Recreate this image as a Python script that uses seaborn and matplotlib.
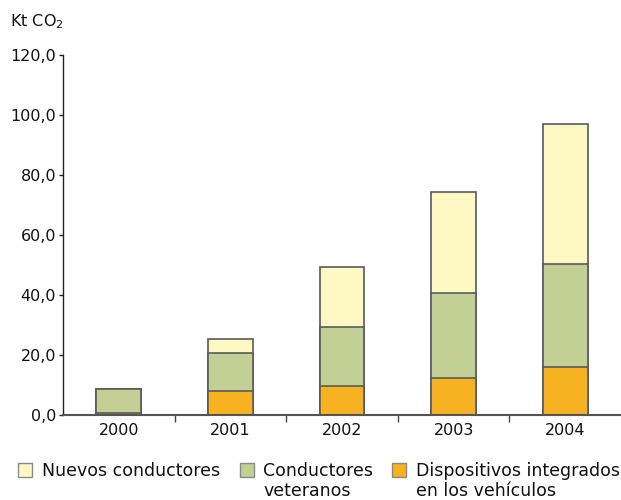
import matplotlib
matplotlib.use("Agg")
import matplotlib.pyplot as plt
import matplotlib.patches as mpatches
import numpy as np
import pandas as pd
import seaborn as sns

years = ["2000", "2001", "2002", "2003", "2004"]
dispositivos = [0.6, 8.0, 9.8, 12.4, 16.1]
veteranos = [8.2, 12.6, 19.5, 28.3, 34.1]
nuevos = [0.0, 4.6, 19.9, 33.6, 46.7]
yticks = [0, 20, 40, 60, 80, 100, 120]

labels = ["Nuevos conductores", "Conductores\nveteranos", "Dispositivos integrados\nen los vehículos"]
colors = ["#FDF7C3", "#C2D096", "#F7B221"]
edge = "#5a5a5a"

sns.set_theme(style="white")
plt.rcParams["font.family"] = ["DejaVu Sans"]

W, H = 621, 500

df = pd.DataFrame({"year": years, "disp": dispositivos, "vet": veteranos, "nue": nuevos})
df["lvl1"] = df["disp"]
df["lvl2"] = df["disp"] + df["vet"]
df["lvl3"] = df["lvl2"] + df["nue"]

fig = plt.figure(figsize=(W / 100, H / 100), dpi=100)
ax = fig.add_axes([63 / W, 1 - 415 / H, 1 - 63 / W, (415 - 55) / H])

# cumulative totals drawn back to front so each layer shows its own segment
for col, color in zip(["lvl3", "lvl2", "lvl1"], colors):
    sns.barplot(data=df, x="year", y=col, color=color, width=0.4,
                edgecolor=edge, linewidth=1.2, saturation=1, ax=ax, zorder=2)

ax.set_xlim(-0.5, 4.5)
ax.set_ylim(0, 120)
ax.set_yticks(yticks)
ax.set_yticklabels([f"{v:.1f}".replace(".", ",") for v in yticks], fontsize=11.5, color="#111111")
ax.set_xlabel("")
ax.set_ylabel("")
ax.tick_params(axis="y", length=3, width=1, color="#222222", pad=2, left=True)
ax.set_xticks(range(len(years)))
ax.set_xticklabels(years, fontsize=11.5, color="#111111")
ax.tick_params(axis="x", which="major", length=0, pad=6)
ax.set_xticks(np.arange(0.5, 4.5, 1.0), minor=True)
ax.tick_params(axis="x", which="minor", length=5, width=1, color="#444444", bottom=True)

for s in ["top", "right"]:
    ax.spines[s].set_visible(False)
ax.spines["left"].set_color("#222222")
ax.spines["left"].set_linewidth(1.0)
ax.spines["bottom"].set_color("#555555")
ax.spines["bottom"].set_linewidth(1.5)

fig.text(10 / W, 1 - 22 / H, "Kt CO$_2$", fontsize=11.5, color="#111111", va="center", ha="left")

# legend: swatch aligned with the first line of each label
swatch_x = [18, 240, 392]
text_x = [42, 263, 416]
line_baselines = [476.5, 495.5]
for x0, tx, color, label in zip(swatch_x, text_x, colors, labels):
    fig.add_artist(mpatches.Rectangle((x0 / W, 1 - 476.5 / H), 14 / W, 14 / H,
                                      transform=fig.transFigure, facecolor=color,
                                      edgecolor="#8a8a8a", linewidth=1))
    for line, yb in zip(label.split("\n"), line_baselines):
        fig.text(tx / W, 1 - yb / H, line, fontsize=12.5, color="#111111",
                 ha="left", va="baseline")

fig.savefig("out.png", dpi=100)
